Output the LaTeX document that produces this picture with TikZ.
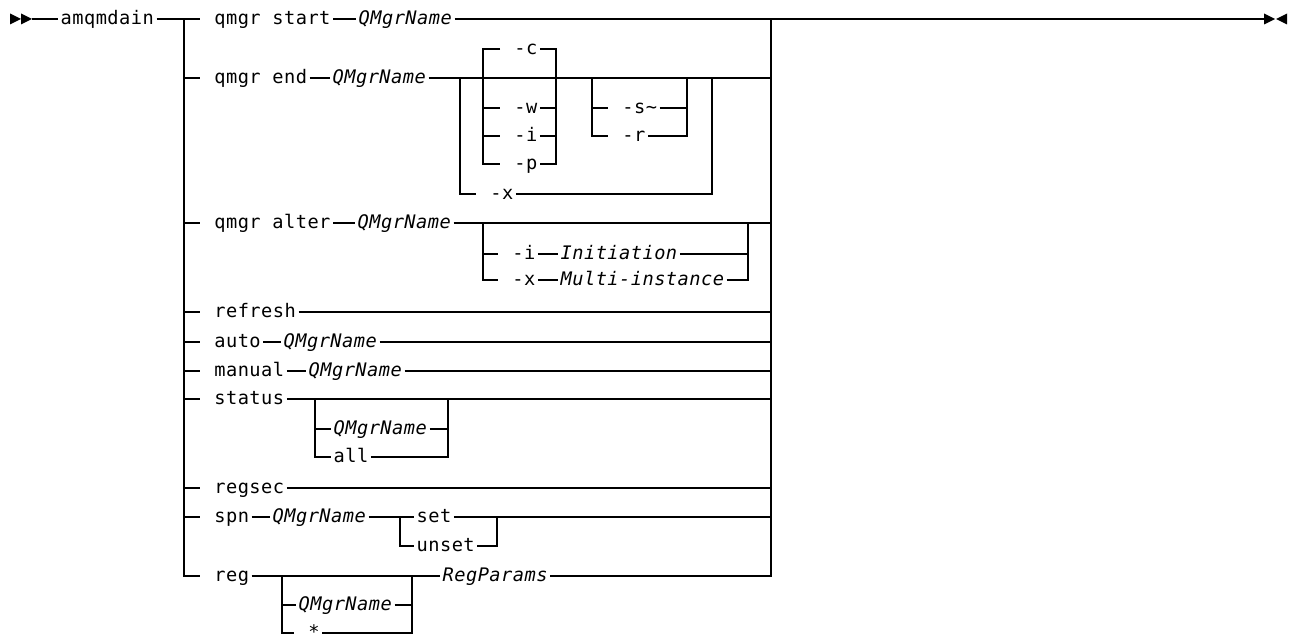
\documentclass[tikz,border=0pt]{standalone}
\usepackage{fontspec}
\newfontfamily\railfont[LetterSpace=2.5]{DejaVu Sans Mono}
\newcommand{\railsize}{\fontsize{14pt}{16pt}\selectfont}

\begin{document}
\begin{tikzpicture}[
    x=0.75pt, y=-0.75pt,
    line width=1pt,
    kw/.style={anchor=west, inner xsep=1.5pt, inner ysep=0pt, text height=10.5pt, text depth=2.9pt, font=\railfont\railsize},
    var/.style={kw, font=\railfont\itshape\railsize}
]
\useasboundingbox (0,0) rectangle (1291,635);

% start and end of the diagram
\coordinate (begin) at (32,19);
\coordinate (finish) at (1264,19);
\fill[shift={(begin)}] (-22,-5.5) -- (-11,0) -- (-22,5.5) -- cycle
                       (-11,-5.5) -- (0,0) -- (-11,5.5) -- cycle;
\fill[shift={(finish)}] (0,-5.5) -- (11,0) -- (0,5.5) -- cycle
                        (23,-5.5) -- (12,0) -- (23,5.5) -- cycle;

% rails
\node[kw] (amq) at (58,19) {amqmdain};
\coordinate (lrail) at (184,19);
\coordinate (rrail) at (771,19);

% branch keywords
\node[kw]  (qstart)  at (200,19)  {\ qmgr start};
\node[var] (startq)  at (356,19)  {QMgrName};
\node[kw]  (qend)    at (200,78)  {\ qmgr end};
\node[var] (endq)    at (330,78)  {QMgrName};
\node[kw]  (qalter)  at (200,223) {\ qmgr alter};
\node[var] (alterq)  at (355,223) {QMgrName};
\node[kw]  (refresh) at (200,312) {\ refresh};
\node[kw]  (auto)    at (200,342) {\ auto};
\node[var] (autoq)   at (281,342) {QMgrName};
\node[kw]  (manual)  at (200,371) {\ manual};
\node[var] (manualq) at (306,371) {QMgrName};
\node[kw]  (status)  at (200,399) {\ status};
\node[kw]  (regsec)  at (200,488) {\ regsec};
\node[kw]  (spn)     at (200,517) {\ spn};
\node[var] (spnq)    at (270,517) {QMgrName};
\node[kw]  (reg)     at (200,576) {\ reg};
\node[var] (regp)    at (440,576) {RegParams};

\draw (begin) -- (amq.west);
\draw (amq.east) -- (qstart.west);
\draw (qstart.east) -- (startq.west);
\draw (startq.east) -- (finish);
\draw (lrail) |- (reg.west);
\draw (rrail) |- (regp.east);
\foreach \b in {qend,qalter,refresh,auto,manual,status,regsec,spn}
    \draw (lrail |- \b.west) -- (\b.west);

% simple branches
\draw (qend.east) -- (endq.west);
\draw (endq.east) -- (rrail |- endq.east);
\draw (qalter.east) -- (alterq.west);
\draw (alterq.east) -- (rrail |- alterq.east);
\draw (refresh.east) -- (rrail |- refresh.east);
\draw (auto.east) -- (autoq.west);
\draw (autoq.east) -- (rrail |- autoq.east);
\draw (manual.east) -- (manualq.west);
\draw (manualq.east) -- (rrail |- manualq.east);
\draw (status.east) -- (rrail |- status.east);
\draw (regsec.east) -- (rrail |- regsec.east);
\draw (spn.east) -- (spnq.west);

% qmgr end: -c -w -i -p
\coordinate (cl) at (483,49);
\coordinate (cr) at (556,49);
\node[kw] (optc) at (500,49)  {\ -c};
\node[kw] (optw) at (500,108) {\ -w};
\node[kw] (opti) at (500,136) {\ -i};
\node[kw] (optp) at (500,164) {\ -p};
\draw (optc.west) -- (cl) |- (optp.west);
\draw (optc.east) -- (cr) |- (optp.east);
\foreach \o in {optw,opti} {
    \draw (cl |- \o.west) -- (\o.west);
    \draw (\o.east) -- (cr |- \o.east);
}

% qmgr end: -s~ -r
\coordinate (sl) at (592,78);
\coordinate (sr) at (687,78);
\node[kw] (opts) at (608,108) {\ -s\textasciitilde\ };
\node[kw] (optr) at (608,136) {\ -r};
\draw (sl) |- (optr.west);
\draw (sr) |- (optr.east);
\draw (sl |- opts.west) -- (opts.west);
\draw (opts.east) -- (sr |- opts.east);

% qmgr end: -x
\coordinate (xl) at (460,78);
\coordinate (xr) at (712,78);
\node[kw] (optx) at (476,194) {\ -x};
\draw (xl) |- (optx.west);
\draw (optx.east) -| (xr);

% qmgr alter options
\coordinate (al) at (483,223);
\coordinate (ar) at (748,223);
\node[kw]  (alti)   at (498,254) {\ -i};
\node[var] (altini) at (558,254) {Initiation};
\node[kw]  (altx)   at (498,280) {\ -x};
\node[var] (altmi)  at (558,280) {Multi-instance};
\draw (al) |- (altx.west);
\draw (al |- alti.west) -- (alti.west);
\draw (alti.east) -- (altini.west);
\draw (altini.east) -- (ar |- altini.east);
\draw (altx.east) -- (altmi.west);
\draw (altmi.east) -| (ar);

% status options
\coordinate (stl) at (315,399);
\coordinate (str) at (448,399);
\node[var] (statq) at (331,429) {QMgrName};
\node[kw]  (stata) at (331,457) {all};
\draw (stl) |- (stata.west);
\draw (stl |- statq.west) -- (statq.west);
\draw (statq.east) -- (str |- statq.east);
\draw (stata.east) -| (str);

% spn set / unset
\coordinate (spl) at (400,517);
\coordinate (spr) at (497,517);
\node[kw] (spset)   at (414,517) {set};
\node[kw] (spunset) at (414,546) {unset};
\draw (spnq.east) -- (spset.west);
\draw (spset.east) -- (rrail |- spset.east);
\draw (spl) |- (spunset.west);
\draw (spunset.east) -| (spr);

% reg options
\coordinate (rgl) at (282,576);
\coordinate (rgr) at (412,576);
\node[var] (regq) at (296,605) {QMgrName};
\node[kw]  (regs) at (294,633) {\ *};
\draw (reg.east) -- (regp.west);
\draw (rgl) |- (regs.west);
\draw (rgl |- regq.west) -- (regq.west);
\draw (regq.east) -- (rgr |- regq.east);
\draw (regs.east) -| (rgr);
\end{tikzpicture}
\end{document}
